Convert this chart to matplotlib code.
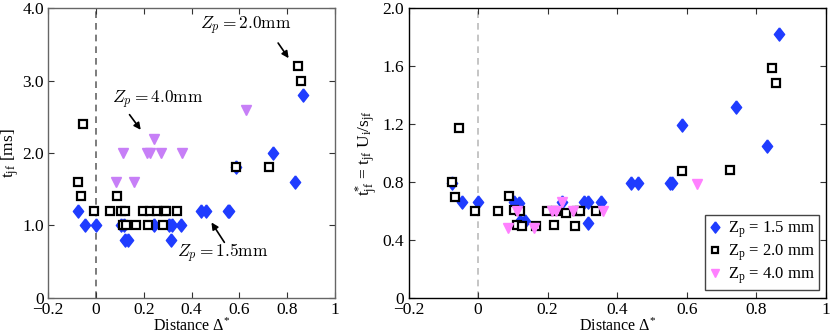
import matplotlib
matplotlib.use("Agg")
import matplotlib.pyplot as plt

# ---- data ----
# Zp = 1.5 mm (diamonds)
d15_x = [-0.074, -0.046, 0.0, 0.104, 0.118, 0.120, 0.134, 0.242, 0.304, 0.316, 0.315,
         0.354, 0.440, 0.459, 0.551, 0.557, 0.586, 0.741, 0.831, 0.865]
d15_t = [1.2, 1.0, 1.0, 1.0, 1.0, 0.8, 0.8, 1.0, 1.0, 1.0, 0.8,
         1.0, 1.2, 1.2, 1.2, 1.2, 1.8, 2.0, 1.6, 2.8]
d15_ts = [0.79, 0.66, 0.66, 0.664, 0.657, 0.532, 0.532, 0.664, 0.66, 0.66, 0.518,
          0.664, 0.79, 0.79, 0.795, 0.79, 1.19, 1.32, 1.046, 1.823]

# Zp = 2.0 mm (squares)
d20_x = [-0.074, -0.065, -0.055, -0.009, 0.057, 0.088, 0.103, 0.120, 0.113, 0.125,
         0.166, 0.198, 0.219, 0.225, 0.253, 0.279, 0.284, 0.292, 0.338, 0.587,
         0.724, 0.846, 0.857]
d20_t = [1.6, 1.4, 2.4, 1.2, 1.2, 1.4, 1.2, 1.2, 1.0, 1.0,
         1.0, 1.2, 1.0, 1.2, 1.2, 1.0, 1.2, 1.2, 1.2, 1.8,
         1.8, 3.2, 3.0]
d20_ts = [0.797, 0.698, 1.17, 0.60, 0.60, 0.705, 0.606, 0.60, 0.502, 0.498,
          0.498, 0.60, 0.502, 0.60, 0.588, 0.498, 0.60, 0.60, 0.60, 0.876,
          0.883, 1.585, 1.486]

# Zp = 4.0 mm (triangles)
d40_x = [0.085, 0.113, 0.160, 0.212, 0.224, 0.242, 0.272, 0.360, 0.629]
d40_t = [1.6, 2.0, 1.6, 2.0, 2.0, 2.2, 2.0, 2.0, 2.6]
d40_ts = [0.479, 0.601, 0.484, 0.601, 0.601, 0.664, 0.601, 0.601, 0.783]

xticks = [-0.2, 0, 0.2, 0.4, 0.6, 0.8, 1]
xticklabels = ["\u22120.2", "0", "0.2", "0.4", "0.6", "0.8", "1"]
yticks_left = [0, 1, 2, 3, 4]
yticklabels_left = ["0", "1.0", "2.0", "3.0", "4.0"]
yticks_right = [0, 0.4, 0.8, 1.2, 1.6, 2.0]
yticklabels_right = ["0", "0.4", "0.8", "1.2", "1.6", "2.0"]
legend_labels = [r"Z$_{\mathrm{p}}$ = 1.5 mm", r"Z$_{\mathrm{p}}$ = 2.0 mm",
                 r"Z$_{\mathrm{p}}$ = 4.0 mm"]

# ---- style ----
plt.rcParams['font.family'] = ['Liberation Serif', 'DejaVu Serif']
plt.rcParams['mathtext.fontset'] = 'custom'
plt.rcParams['mathtext.rm'] = 'Liberation Serif'
plt.rcParams['mathtext.it'] = 'Liberation Serif:italic'
plt.rcParams['mathtext.bf'] = 'Liberation Serif:bold'
plt.rcParams['font.size'] = 12

blue = '#1f3cff'
violet = '#c77ff7'
pink = '#ff80ff'
diamond = [(0, 1), (0.78, 0), (0, -1), (-0.78, 0), (0, 1)]

fig = plt.figure(figsize=(8.31, 3.34), dpi=100)
axL = fig.add_axes([0.0581, 0.1087, 0.3450, 0.8665])
axR = fig.add_axes([0.4916, 0.1087, 0.5024, 0.8665])

def style(ax, spine_color):
    ax.set_xlim(-0.2, 1)
    ax.set_xticks(xticks)
    ax.set_xticklabels(xticklabels)
    ax.tick_params(direction='in', top=True, right=True, length=4, width=0.8,
                   labelsize=12.5, pad=3, color='#333333')
    for s in ax.spines.values():
        s.set_color(spine_color)
        s.set_linewidth(1.0)
    ax.set_xlabel("Distance \u0394$^{*}$", fontsize=11.5, labelpad=0)

arrow = dict(arrowstyle='-|>', color='black', lw=1.2, mutation_scale=10,
             shrinkA=0, shrinkB=0)
txt_kw = dict(fontsize=12.5, math_fontfamily='cm', ha='center', va='center')

# Left panel
axL.axvline(0, color='#666666', ls=(0, (4, 3)), lw=1.2, zorder=1)
axL.plot(d15_x, d15_t, ls='none', marker=diamond, ms=9.5, color=blue, mec=blue, zorder=2)
axL.plot(d20_x, d20_t, ls='none', marker='s', ms=5.5, mfc='white', mec='black',
         mew=1.6, zorder=3)
axL.plot(d40_x, d40_t, ls='none', marker='v', ms=7, color=violet, mec=violet, zorder=4)
style(axL, '#666666')
axL.set_ylim(0, 4)
axL.set_yticks(yticks_left)
axL.set_yticklabels(yticklabels_left)
axL.set_ylabel(r"t$_{\mathrm{jf}}$ [ms]", fontsize=12.5, labelpad=1)

axL.text(0.625, 3.76, r"$Z_p = 2.0\mathrm{mm}$", **txt_kw)
axL.annotate("", xy=(0.806, 3.31), xytext=(0.762, 3.52), arrowprops=arrow)
axL.text(0.26, 2.73, r"$Z_p = 4.0\mathrm{mm}$", **txt_kw)
axL.annotate("", xy=(0.187, 2.32), xytext=(0.140, 2.53), arrowprops=arrow)
axL.text(0.53, 0.61, r"$Z_p = 1.5\mathrm{mm}$", **txt_kw)
axL.annotate("", xy=(0.483, 1.04), xytext=(0.537, 0.765), arrowprops=arrow)

# Right panel
axR.axvline(0, color='#bbbbbb', ls=(0, (4, 3)), lw=1.2, zorder=1)
h1, = axR.plot(d15_x, d15_ts, ls='none', marker=diamond, ms=9.5, color=blue, mec=blue,
               zorder=2)
h2, = axR.plot(d20_x, d20_ts, ls='none', marker='s', ms=5.5, mfc='white', mec='black',
               mew=1.6, zorder=3)
h3, = axR.plot(d40_x, d40_ts, ls='none', marker='v', ms=7, color=pink, mec=pink, zorder=4)
style(axR, 'black')
axR.set_ylim(0, 2.0)
axR.set_yticks(yticks_right)
axR.set_yticklabels(yticklabels_right)
axR.set_ylabel(r"t$^{*}_{\mathrm{jf}}$ = t$_{\mathrm{jf}}$ U$_{\mathrm{i}}$/s$_{\mathrm{jf}}$",
               fontsize=12.5, labelpad=2)
leg = axR.legend([h1, h2, h3], legend_labels, loc='lower right', fontsize=12,
                 frameon=True, fancybox=False, framealpha=1, edgecolor='#444444',
                 handlelength=0.7, handletextpad=0.4, borderpad=0.25, labelspacing=0.15,
                 borderaxespad=0.45, markerscale=0.85)
leg.get_frame().set_linewidth(1.0)

fig.savefig("out.png", dpi=100)
